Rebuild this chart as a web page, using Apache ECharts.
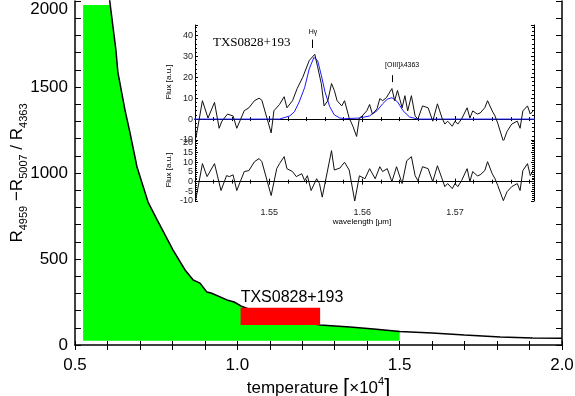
<!DOCTYPE html>
<html>
<head>
<meta charset="utf-8">
<script src="https://cdn.jsdelivr.net/npm/echarts@6/dist/echarts.min.js"></script>
<style>
html, body { margin: 0; padding: 0; background: #fff; }
#chart { width: 575px; height: 396px; }
</style>
</head>
<body>
<div id="chart"></div>
<script>
// main panel: line ratio vs temperature
const curveT = [0.58, 0.608, 0.626, 0.632, 0.654, 0.669, 0.691, 0.725, 0.753, 0.802, 0.839, 0.864, 0.885, 0.906, 0.919, 0.968, 0.99, 1.011, 1.06, 1.12, 1.19, 1.255, 1.347, 1.42, 1.5, 1.6, 1.7, 1.81, 1.91, 2.0]
const curveR = [2450, 1985, 1715, 1587, 1366, 1238, 1035, 831, 727, 552, 436, 378, 360, 308, 302, 262, 250, 227, 190, 163, 138, 116, 105, 93, 79, 70, 58, 47, 41, 39]

const greenT = [0.525, 0.608, 0.626, 0.632, 0.654, 0.669, 0.691, 0.725, 0.753, 0.802, 0.839, 0.864, 0.885, 0.906, 0.919, 0.968, 0.99, 1.011, 1.06, 1.12, 1.19, 1.255, 1.347, 1.42, 1.5]
const greenR = [1977, 1977, 1715, 1587, 1366, 1238, 1035, 831, 727, 552, 436, 378, 360, 308, 302, 262, 250, 227, 190, 163, 138, 116, 105, 93, 81]
const greenBase = 25

// red box: [Tmin, Rmin, Tmax, Rmax]
const txsBox = [1.01, 116, 1.255, 217]

const xTicks = [0.5, 1.0, 1.5, 2.0]
const yTicks = [0, 500, 1000, 1500, 2000]

// inset: spectrum, gaussian fit, residual
const specWave = [1.5421, 1.5428, 1.5434, 1.5441, 1.5446, 1.5449, 1.5455, 1.5461, 1.5465, 1.5473, 1.5478, 1.5484, 1.5489, 1.5492, 1.5502, 1.5505, 1.5511, 1.5516, 1.5519, 1.5525, 1.5530, 1.5536, 1.5543, 1.5549, 1.5552, 1.5556, 1.5559, 1.5563, 1.5567, 1.5570, 1.5573, 1.5578, 1.5581, 1.5586, 1.5590, 1.5594, 1.5597, 1.5600, 1.5605, 1.5608, 1.5611, 1.5616, 1.5619, 1.5622, 1.5626, 1.5632, 1.5635, 1.5638, 1.5643, 1.5646, 1.5649, 1.5653, 1.5657, 1.5660, 1.5665, 1.5671, 1.5676, 1.5681, 1.5686, 1.5689, 1.5692, 1.5697, 1.5700, 1.5703, 1.5707, 1.5713, 1.5716, 1.5719, 1.5724, 1.5727, 1.5732, 1.5735, 1.5740, 1.5743, 1.5746, 1.5752, 1.5756, 1.5761, 1.5767, 1.5770, 1.5773, 1.5778, 1.5781, 1.5784]
const specFlux = [-9, 8.8, 0.5, 8, -4.4, -1, 2.4, 1.5, -4.4, 4, 5.4, 8.8, 10, 9, -6.6, 4, 7, 10.7, 5.4, 8.8, 14.6, 20, 28, 31, 25, 17, 6.3, 8.8, 17, 13.7, 8.8, 6.3, 8.8, 0.5, -3.4, -8.3, 0.5, 1.5, 4, 7, 2.4, 4.9, 9.8, 8.8, 10.2, 14.6, 8.8, 13.7, 5.4, 11.2, 3.9, 11.2, 1.5, 0, 6.3, 5.4, -1, 7.3, 0.5, -2.4, -1, -3.4, -1, -2.4, 0, 5.4, 0.5, 3.9, 2.4, 2.9, 5.4, 8.8, 3.9, 1.5, -2, -10.7, -5.9, -2.4, -1, -4.4, 3.9, 6.3, 2.4, 3.9]

const modelWave = [1.5415, 1.5511, 1.5522, 1.5527, 1.5532, 1.5538, 1.5543, 1.5548, 1.5552, 1.5556, 1.5560, 1.5565, 1.5570, 1.5576, 1.5581, 1.5597, 1.5608, 1.5616, 1.5622, 1.5627, 1.5632, 1.5638, 1.5644, 1.5651, 1.5660, 1.5790]
const modelFlux = [0, 0, 1.5, 3.5, 8, 15, 24, 29.5, 28, 21, 13, 6, 2, 0.5, 0.2, 0.5, 1.5, 4, 7.3, 9.5, 10.2, 8.3, 4, 1, 0, 0]

const residWave = [1.5421, 1.5428, 1.5433, 1.5441, 1.5448, 1.5454, 1.5457, 1.5461, 1.5465, 1.5473, 1.5478, 1.5484, 1.5489, 1.5492, 1.5502, 1.5508, 1.5511, 1.5516, 1.5519, 1.5525, 1.5529, 1.5535, 1.5538, 1.5541, 1.5545, 1.5551, 1.5554, 1.5557, 1.5567, 1.5570, 1.5576, 1.5581, 1.5586, 1.5592, 1.5597, 1.5603, 1.5608, 1.5614, 1.5619, 1.5622, 1.5627, 1.5632, 1.5637, 1.5643, 1.5648, 1.5653, 1.5657, 1.5660, 1.5665, 1.5671, 1.5676, 1.5681, 1.5686, 1.5689, 1.5692, 1.5697, 1.5700, 1.5703, 1.5707, 1.5713, 1.5716, 1.5719, 1.5724, 1.5727, 1.5732, 1.5735, 1.5740, 1.5743, 1.5746, 1.5752, 1.5756, 1.5761, 1.5767, 1.5770, 1.5773, 1.5778, 1.5781, 1.5784]
const residFlux = [-8.8, 9.3, 2.6, 9.3, -4.6, 3.1, 2.6, 3.5, -4.6, 5.2, 5.7, 10.3, 11.9, 10.3, -7.2, 6.7, 9.3, 12.9, 6.7, 5.2, 2.6, 4.1, 0.5, 3.1, -4.6, 1.5, -1, -8, 16, 6, 7, 10, 6, -10, 3, 1.5, 6.7, 1.5, 7.7, 5.2, 6.7, 0, 7.7, -1, 10.8, 12.9, 3.1, 0.5, 7.7, 6.7, 0, 8.2, 1.5, -2.6, -1, -3.6, -1, -2.6, 0.5, 6.7, 0, 5.2, 3, 3.5, 5.7, 10.3, 4.1, 1.5, -2, -9.8, -5.2, -2.6, -1, -4.6, 5.7, 9.3, 3.1, 5.7]

// short line markers above the emission lines
const markerWave = [1.5546, 1.5632]
const markerLo = [34, 17.7]
const markerHi = [38, 21]

const zip = (a, b) => a.map((v, i) => [v, b[i]])

const FONT = 'Liberation Sans'
const main = { left: 75, top: 1, width: 487, height: 344 }
const inTop = { left: 195, top: 25, width: 339, height: 115 }
const inBot = { left: 195, top: 140, width: 339, height: 61 }

const black = { color: '#000', width: 1.5 }
const thin = { color: '#000', width: 1 }

function mainX(pos, labels) {
  return {
    gridIndex: 0, type: 'value', position: pos,
    min: xTicks[0], max: xTicks[xTicks.length - 1], interval: 0.5,
    axisLine: { show: pos === 'top', lineStyle: black },
    axisTick: { inside: true, length: pos === 'top' ? 5 : 4, lineStyle: thin },
    minorTick: { show: true, splitNumber: 5, length: pos === 'top' ? 5 : 4, lineStyle: thin },
    axisLabel: { show: labels, formatter: v => v.toFixed(1), fontFamily: FONT, fontSize: 17, color: '#000', margin: 12 },
    splitLine: { show: false }
  }
}

function mainY(pos, labels) {
  return {
    gridIndex: 0, type: 'value', position: pos,
    min: yTicks[0], max: yTicks[yTicks.length - 1], interval: 500,
    axisLine: { show: true, lineStyle: black },
    axisTick: { inside: true, length: 6, lineStyle: thin },
    minorTick: { show: true, splitNumber: 5, length: 6, lineStyle: thin },
    axisLabel: { show: labels, formatter: v => String(v), verticalAlignMaxLabel: 'top', fontFamily: FONT, fontSize: 17, color: '#000', margin: 7 },
    splitLine: { show: false }
  }
}

function insetX(grid, pos, labels) {
  return {
    gridIndex: grid, type: 'value', position: pos,
    min: 1.542, max: 1.5785,
    axisLine: { show: true, lineStyle: thin },
    axisTick: { inside: true, length: 3, lineStyle: thin },
    minorTick: { show: true, splitNumber: 5, length: 2, lineStyle: thin },
    axisLabel: { show: labels, showMinLabel: false, showMaxLabel: false, fontFamily: FONT, fontSize: 9, color: '#222', margin: 7 },
    splitLine: { show: false }
  }
}

function insetY(grid, pos, labels, min, max, step) {
  return {
    gridIndex: grid, type: 'value', position: pos,
    min: min, max: max, interval: step,
    axisLine: { show: true, lineStyle: thin },
    axisTick: { inside: true, length: 3, lineStyle: thin },
    minorTick: { show: true, splitNumber: 5, length: 2, lineStyle: thin },
    axisLabel: { show: labels, showMaxLabel: false, fontFamily: FONT, fontSize: 9, color: '#222', margin: 2 },
    splitLine: { show: false }
  }
}

const yName = Object.assign(mainY('left', true), {
  name: '{m|R}{s|4959}{m| −R}{s|5007}{m| / R}{s|4363}',
  nameLocation: 'middle', nameRotate: 90, nameGap: 46, nameMoveOverlap: false,
  nameTextStyle: {
    fontFamily: FONT, color: '#000',
    rich: {
      m: { fontFamily: FONT, fontSize: 17, lineHeight: 24, color: '#000' },
      s: { fontFamily: FONT, fontSize: 11, lineHeight: 10, verticalAlign: 'bottom', color: '#000' }
    }
  }
})

const xName = Object.assign(mainX('bottom', true), {
  name: '{m|temperature }{b|[}{m|×10}{p|4}{b|]}',
  nameLocation: 'middle', nameGap: 31, nameMoveOverlap: false,
  nameTextStyle: {
    fontFamily: FONT, color: '#000',
    rich: {
      m: { fontFamily: FONT, fontSize: 17, lineHeight: 24, color: '#000' },
      b: { fontFamily: FONT, fontSize: 22, lineHeight: 24, color: '#000' },
      p: { fontFamily: FONT, fontSize: 11, lineHeight: 12, verticalAlign: 'top', color: '#000' }
    }
  }
})

const txt = (x, y, text, size, extra) => ({
  type: 'text', x: x, y: y, silent: true,
  style: Object.assign({ text: text, font: size + 'px "' + FONT + '"', fill: '#000', align: 'center', verticalAlign: 'middle' }, extra || {})
})

const chart = echarts.init(document.getElementById('chart'), null, { renderer: 'canvas' })

const option = {
  animation: false,
  backgroundColor: '#fff',
  grid: [
    Object.assign({ outerBoundsMode: 'none', containLabel: false }, main),
    Object.assign({ outerBoundsMode: 'none', containLabel: false, show: true, backgroundColor: '#fff', borderWidth: 0 }, inTop),
    Object.assign({ outerBoundsMode: 'none', containLabel: false, show: true, backgroundColor: '#fff', borderWidth: 0 }, inBot)
  ],
  xAxis: [
    xName,
    mainX('top', false),
    insetX(1, 'bottom', false),
    insetX(1, 'top', false),
    insetX(2, 'bottom', true),
    insetX(2, 'top', false)
  ],
  yAxis: [
    yName,
    mainY('right', false),
    insetY(1, 'left', true, -10, 45, 10),
    insetY(1, 'right', false, -10, 45, 10),
    insetY(2, 'left', true, -10, 21.5, 5),
    insetY(2, 'right', false, -10, 21.5, 5)
  ],
  series: [
    {
      type: 'line', xAxisIndex: 0, yAxisIndex: 0, z: 1,
      data: zip(greenT, greenR), symbol: 'none',
      lineStyle: { width: 0 },
      areaStyle: { color: '#00ff00', opacity: 1, origin: greenBase }
    },
    {
      type: 'line', xAxisIndex: 0, yAxisIndex: 0, z: 2,
      data: zip(curveT, curveR), symbol: 'none',
      lineStyle: { color: '#000', width: 1.5 }
    },
    {
      type: 'custom', xAxisIndex: 0, yAxisIndex: 0, z: 3,
      data: [txsBox],
      renderItem: (params, api) => {
        const a = api.coord([api.value(0), api.value(3)])
        const b = api.coord([api.value(2), api.value(1)])
        return { type: 'rect', shape: { x: a[0], y: a[1], width: b[0] - a[0], height: b[1] - a[1] }, style: { fill: '#ff0000' } }
      }
    },
    {
      type: 'line', xAxisIndex: 2, yAxisIndex: 2, z: 3,
      data: zip(modelWave, modelFlux), symbol: 'none',
      lineStyle: { color: '#1a1aff', width: 1 }
    },
    {
      type: 'line', xAxisIndex: 2, yAxisIndex: 2, z: 4,
      data: zip(specWave, specFlux), symbol: 'none',
      lineStyle: { color: '#111', width: 1 },
      markLine: {
        silent: true, symbol: 'none', animation: false,
        label: { show: false },
        lineStyle: { color: '#000', width: 1, type: 'solid' },
        data: markerWave.map((w, i) => [{ coord: [w, markerLo[i]] }, { coord: [w, markerHi[i]] }])
      }
    },
    {
      type: 'line', xAxisIndex: 4, yAxisIndex: 4, z: 4,
      data: zip(residWave, residFlux), symbol: 'none',
      lineStyle: { color: '#111', width: 1 }
    }
  ],
  graphic: [
    txt(292, 298, 'TXS0828+193', 16),
    txt(89, 329, 'MRC0406−244', 16, { align: 'left' }),
    txt(213, 43, 'TXS0828+193', 13, { align: 'left', font: '13px "Liberation Serif"' }),
    txt(313, 32, 'Hγ', 7),
    txt(385, 65, '[OIII]λ4363', 7, { align: 'left' }),
    txt(362, 222, 'wavelength [μm]', 8),
    Object.assign(txt(169, 82, 'Flux [a.u.]', 8), { rotation: Math.PI / 2 }),
    Object.assign(txt(169, 170, 'Flux [a.u.]', 8), { rotation: Math.PI / 2 })
  ]
}

chart.setOption(option)
</script>
</body>
</html>
